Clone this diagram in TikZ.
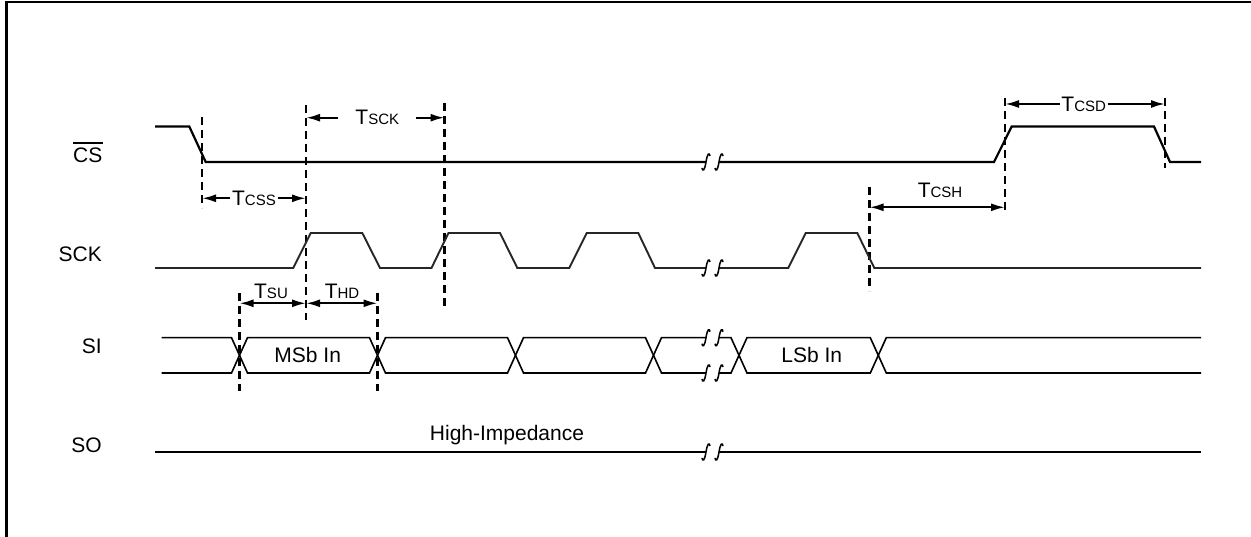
\documentclass[tikz,border=0pt]{standalone}
\usepackage{fontspec}
\setmainfont{Liberation Sans}
\usetikzlibrary{arrows.meta}
\newcommand\lblfont{\fontsize{21}{25}\selectfont}
\newcommand\smcfont{\fontsize{15}{18}\selectfont}
\newcommand\sicell[2]{\draw[sidata] (#1,355.3) -- ({#1+8},337.7) -- ({#2-8},337.7) -- (#2,355.3) -- ({#2-8},373) -- ({#1+8},373) -- cycle;}
\tikzset{
  sigline/.style={line width=2.2pt, line join=miter},
  clkline/.style={line width=1.9pt, draw=black!85},
  sidata/.style={line width=1.6pt, line join=miter},
  guide/.style={line width=2.4pt, dash pattern=on 8pt off 5pt},
  dimarr/.style={line width=2.1pt, -{Latex[length=14pt,width=8pt]}},
  dimboth/.style={line width=2.1pt, {Latex[length=14pt,width=8pt]}-{Latex[length=14pt,width=8pt]}},
  lab/.style={font=\lblfont, inner sep=0pt},
  brk/.pic={\draw[line width=1.5pt] (-4,6) .. controls (-3.5,9.5) and (-1.5,9.5) .. (0,0) .. controls (1.5,-9.5) and (3.5,-9.5) .. (4,-6);}
}
\begin{document}
\begin{tikzpicture}[x=1pt,y=-1pt]
\useasboundingbox (0,0) rectangle (1251,537);
% frame
\draw[line width=2.2pt] (6.5,537) -- (6.5,2) -- (1251,2);

% signal labels
\node[lab, anchor=base east] (lcs) at (102.5,162.7) {CS};
\draw[line width=1.6pt] ([yshift=5pt]lcs.north west) -- ([yshift=5pt]lcs.north east);
\node[lab, anchor=base east] (lsck) at (102,261.7) {SCK};
\node[lab, anchor=base east] (lsi) at (102,353.3) {SI};
\node[lab, anchor=base east] (lso) at (102,452) {SO};

% guide coordinates
\coordinate (d1t) at (202,117);   \coordinate (d1b) at (202,208);
\coordinate (d2t) at (306,105);   \coordinate (d2b) at (306,320);
\coordinate (d3t) at (444.5,103); \coordinate (d3b) at (444.5,308);
\coordinate (d4t) at (239.5,293); \coordinate (d4b) at (239.5,391);
\coordinate (d5t) at (377.5,293); \coordinate (d5b) at (377.5,391);
\coordinate (d6t) at (869.5,187); \coordinate (d6b) at (869.5,291);
\coordinate (d7t) at (1005,98);   \coordinate (d7b) at (1005,210);
\coordinate (d8t) at (1165,98);   \coordinate (d8b) at (1165,168);
\foreach \g in {1,...,8} {\draw[guide] (d\g t) -- (d\g b);}

% CS
\draw[sigline] (155,126.5) -- (189.3,126.5) -- (205.7,162) -- (706,162);
\draw[sigline] (719,162) -- (994,162) -- (1011.7,126.5) -- (1154,126.5) -- (1170,162) -- (1201,162);
\path (706,162) pic{brk} (719,162) pic{brk};

% SCK
\draw[clkline] (155,268) -- (293.3,268) -- (310.7,233) -- (362.3,233) -- (380,268) -- (431.5,268) -- (448.5,233) -- (500,233) -- (517.3,268) -- (569.3,268) -- (586.7,233) -- (638.3,233) -- (655,268) -- (706,268);
\draw[clkline] (719,268) -- (788.3,268) -- (805.7,233) -- (857.3,233) -- (874.3,268) -- (1201,268);
\path (706,268) pic{brk} (719,268) pic{brk};

% SI
\draw[sidata] (161.7,337.7) -- (231.5,337.7) -- (239.5,355.3) -- (231.5,373) -- (161.7,373);
\sicell{239.5}{377.5}
\sicell{377.5}{515.5}
\sicell{515.5}{653.5}
\draw[sidata] (706,337.7) -- (661.5,337.7) -- (653.5,355.3) -- (661.5,373) -- (706,373);
\draw[sidata] (719,337.7) -- (731,337.7) -- (739,355.3) -- (731,373) -- (719,373);
\path (706,337.7) pic{brk} (719,337.7) pic{brk} (706,373) pic{brk} (719,373) pic{brk};
\sicell{739}{878.3}
\draw[sidata] (1201,337.7) -- (886.3,337.7) -- (878.3,355.3) -- (886.3,373) -- (1201,373);
\node[lab] (msb) at (307.7,355.3) {MSb In};
\node[lab] (lsb) at (811.7,355.3) {LSb In};

% SO
\draw[sigline] (155,452) -- (706,452);
\draw[sigline] (719,452) -- (1201,452);
\path (706,452) pic{brk} (719,452) pic{brk};
\node[lab, anchor=base] (hiz) at (507,440.7) {High-Impedance};

% timing annotations
\node[lab, inner xsep=17pt] (tsck) at (377.3,117.7) {T{\smcfont SCK}};
\draw[dimarr] (tsck) -- (d2t |- tsck);
\draw[dimarr] (tsck) -- (d3t |- tsck);

\node[lab, inner xsep=1.5pt] (tcss) at (254,198.3) {T{\smcfont CSS}};
\draw[dimarr] (tcss) -- (d1t |- tcss);
\draw[dimarr] (tcss) -- (d2t |- tcss);

\node[lab, inner xsep=1.5pt] (tcsd) at (1083.7,104) {T{\smcfont CSD}};
\draw[dimarr] (tcsd) -- (d7t |- tcsd);
\draw[dimarr] (tcsd) -- (d8t |- tcsd);

\node[lab, anchor=base] (tcsh) at (940,197.3) {T{\smcfont CSH}};
\coordinate (csh1) at (869.5,207.3);
\coordinate (csh2) at (1005,207.3);
\draw[dimboth] (csh1) -- (csh2);

\node[lab, anchor=base] (tsu) at (271,298.3) {T{\smcfont SU}};
\node[lab, anchor=base] (thd) at (342,298.3) {T{\smcfont HD}};
\coordinate (su1) at (239.5,303.3);
\coordinate (su2) at (306,303.3);
\coordinate (hd2) at (377.5,303.3);
\draw[dimboth] (su1) -- (su2);
\draw[dimboth] (su2) -- (hd2);
\end{tikzpicture}
\end{document}
